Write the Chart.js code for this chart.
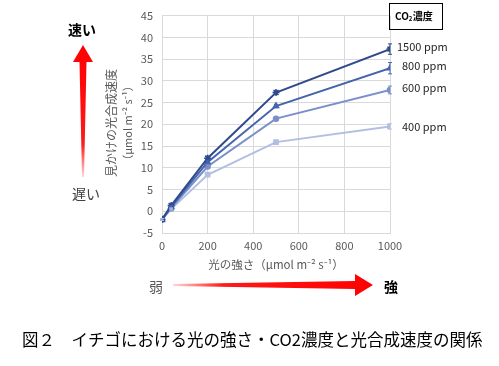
<!DOCTYPE html>
<html>
<head>
<meta charset="utf-8">
<script src="https://cdn.jsdelivr.net/npm/chart.js@4"></script>
<style>
  html, body { margin: 0; padding: 0; background: #fff; }
  #wrap { width: 499px; height: 366px; }
</style>
</head>
<body>
<div id="wrap"><canvas id="photoChart"></canvas></div>
<script>
// ======== Data ========
const lightLevels = [0, 40, 200, 500, 1000];
const rate1500 = [-1.9, 1.3, 12.2, 27.3, 37.3];
const rate800 = [-1.9, 1.0, 11.3, 24.2, 32.9];
const rate600 = [-1.9, 0.7, 10.3, 21.3, 27.9];
const rate400 = [-1.9, 0.5, 8.4, 15.9, 19.5];
const err1500 = [0.2, 0.3, 0.5, 0.4, 1.2];
const err800 = [0.2, 0.3, 0.4, 0.4, 1.3];
const err600 = [0.2, 0.2, 0.4, 0.3, 0.9];
const err400 = [0.2, 0.2, 0.3, 0.3, 0.6];
const seriesLabels = ["1500 ppm", "800 ppm", "600 ppm", "400 ppm"];
const xTicks = [0, 200, 400, 600, 800, 1000];
const yTicks = [-5, 0, 5, 10, 15, 20, 25, 30, 35, 40, 45];

const FONT = '"Noto Sans CJK JP", "Noto Sans", sans-serif';
const GREY = "#595959";

function toPoints(ys) {
  return lightLevels.map((x, i) => ({ x, y: ys[i] }));
}

// ======== Series ========
const seriesStyle = [
  { color: "#2f4b8c", shape: "star", radius: 3.5, offset: 0 },
  { color: "#4565ad", shape: "triangle", radius: 3, offset: 0 },
  { color: "#7b8fca", shape: "circle", radius: 2.5, offset: 0 },
  { color: "#b1bfe2", shape: "rect", radius: 3, offset: 2 },
];
const allRates = [rate1500, rate800, rate600, rate400];
const allErrors = [err1500, err800, err600, err400];

const datasets = allRates.map((rates, i) => ({
  label: seriesLabels[i],
  data: toPoints(rates),
  errors: allErrors[i],
  showLine: true,
  borderColor: seriesStyle[i].color,
  backgroundColor: seriesStyle[i].color,
  borderWidth: 2,
  pointStyle: seriesStyle[i].shape,
  pointRadius: seriesStyle[i].radius,
  pointBorderWidth: 1.5,
  labelOffset: seriesStyle[i].offset,
}));

// ======== Red arrow helper ========
function drawArrow(ctx, x1, y1, x2, y2, headLen, headHalf, shaftTail, shaftHead) {
  const ang = Math.atan2(y2 - y1, x2 - x1);
  const len = Math.hypot(x2 - x1, y2 - y1);
  ctx.save();
  ctx.translate(x1, y1);
  ctx.rotate(ang);
  const grad = ctx.createLinearGradient(0, 0, len, 0);
  grad.addColorStop(0, "rgba(255,0,0,0.15)");
  grad.addColorStop(0.25, "rgba(255,0,0,0.9)");
  grad.addColorStop(1, "#ff0000");
  ctx.fillStyle = grad;
  ctx.beginPath();
  ctx.moveTo(0, -shaftTail);
  ctx.lineTo(len - headLen, -shaftHead);
  ctx.lineTo(len - headLen, -headHalf);
  ctx.lineTo(len, 0);
  ctx.lineTo(len - headLen, headHalf);
  ctx.lineTo(len - headLen, shaftHead);
  ctx.lineTo(0, shaftTail);
  ctx.closePath();
  ctx.fill();
  ctx.restore();
}

// ======== Annotation plugin ========
const annotations = {
  id: "annotations",
  afterDatasetsDraw(chart) {
    const { ctx, scales } = chart;
    const xs = scales.x, ys = scales.y;

    // error bars
    ctx.save();
    chart.data.datasets.forEach((ds) => {
      ctx.strokeStyle = ds.borderColor;
      ctx.lineWidth = 1;
      ds.data.forEach((p, i) => {
        const px = xs.getPixelForValue(p.x);
        const top = ys.getPixelForValue(p.y + ds.errors[i]);
        const bot = ys.getPixelForValue(p.y - ds.errors[i]);
        ctx.beginPath();
        ctx.moveTo(px, top); ctx.lineTo(px, bot);
        ctx.moveTo(px - 2, top); ctx.lineTo(px + 2, top);
        ctx.moveTo(px - 2, bot); ctx.lineTo(px + 2, bot);
        ctx.stroke();
      });
    });
    ctx.restore();
  },
  afterDraw(chart) {
    const { ctx, scales, chartArea } = chart;
    const ys = scales.y;
    ctx.save();
    ctx.textBaseline = "middle";

    // series labels at line ends
    ctx.font = `11px ${FONT}`;
    ctx.fillStyle = "#262626";
    ctx.textAlign = "left";
    chart.data.datasets.forEach((ds, i) => {
      const last = ds.data[ds.data.length - 1];
      const py = ys.getPixelForValue(last.y) - 2 + ds.labelOffset;
      ctx.fillText(ds.label, i === 0 ? 397 : 402, py);
    });

    // CO2 legend box
    ctx.strokeStyle = "#000";
    ctx.lineWidth = 1;
    ctx.strokeRect(389.5, 3.5, 53, 26);
    ctx.fillStyle = "#000";
    ctx.font = `bold 10px ${FONT}`;
    ctx.fillText("CO", 395, 16);
    const coW = ctx.measureText("CO").width;
    ctx.font = `bold 6px ${FONT}`;
    ctx.fillText("2", 395 + coW, 19);
    ctx.font = `bold 10px ${FONT}`;
    ctx.fillText("濃度", 395 + coW + 4, 16);

    // y axis title (rotated, two lines)
    ctx.fillStyle = GREY;
    ctx.textAlign = "center";
    ctx.save();
    ctx.translate(111, 123);
    ctx.rotate(-Math.PI / 2);
    ctx.font = `12px ${FONT}`;
    ctx.fillText("見かけの光合成速度", 0, 0);
    ctx.font = `11px ${FONT}`;
    ctx.fillText("（µmol m⁻² s⁻¹）", 0, 17);
    ctx.restore();

    // x axis title
    ctx.font = `11.5px ${FONT}`;
    ctx.fillText("光の強さ（µmol m⁻² s⁻¹）", (chartArea.left + chartArea.right) / 2, 265);

    // speed labels and vertical arrow
    ctx.font = `bold 14px ${FONT}`;
    ctx.fillStyle = "#000";
    ctx.fillText("速い", 82, 30);
    ctx.font = `14px ${FONT}`;
    ctx.fillStyle = "#404040";
    ctx.fillText("遅い", 86, 194);
    drawArrow(ctx, 83, 177, 83, 45, 17, 10, 1, 3.5);

    // light labels and horizontal arrow
    ctx.fillStyle = GREY;
    ctx.fillText("弱", 156, 287);
    ctx.font = `bold 14px ${FONT}`;
    ctx.fillStyle = "#000";
    ctx.fillText("強", 391, 287);
    drawArrow(ctx, 173, 285, 373, 285, 18, 11, 1, 4);

    // caption
    ctx.font = `16.5px ${FONT}`;
    ctx.fillStyle = "#000";
    ctx.textAlign = "left";
    ctx.fillText("図２　イチゴにおける光の強さ・CO2濃度と光合成速度の関係", 22, 340);
    ctx.restore();
  },
};

// ======== Chart ========
new Chart(document.getElementById("photoChart").getContext("2d"), {
  type: "scatter",
  data: { datasets },
  options: {
    responsive: true,
    maintainAspectRatio: false,
    animation: false,
    layout: { padding: { left: 0, right: 109, top: 11, bottom: 113 } },
    plugins: {
      legend: { display: false },
      tooltip: { enabled: false },
    },
    scales: {
      x: {
        type: "linear",
        min: 0,
        max: 1000,
        afterBuildTicks: (s) => { s.ticks = xTicks.map((v) => ({ value: v })); },
        afterFit: (s) => { s.height = 20; },
        grid: { color: "#d9d9d9", drawTicks: false },
        border: { color: "#d9d9d9" },
        ticks: {
          color: GREY,
          font: { family: FONT, size: 11 },
          padding: 6,
          maxRotation: 0,
          callback: (v) => String(v),
        },
      },
      y: {
        min: -5,
        max: 45,
        afterBuildTicks: (s) => { s.ticks = yTicks.map((v) => ({ value: v })); },
        afterFit: (s) => { s.width = 162; },
        grid: { color: "#d9d9d9", drawTicks: false },
        border: { color: "#d9d9d9" },
        ticks: { color: GREY, font: { family: FONT, size: 11 }, padding: 9 },
      },
    },
  },
  plugins: [annotations],
});
</script>
</body>
</html>
